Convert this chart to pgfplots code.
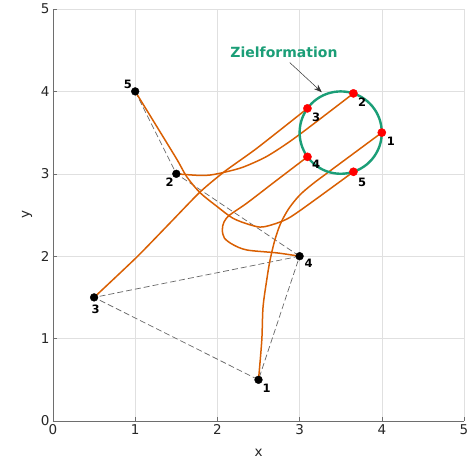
\documentclass[border=0pt]{standalone}
\usepackage{fontspec}
\setmainfont{DejaVu Sans}
\usepackage{pgfplots}
\pgfplotsset{compat=1.18}
\usetikzlibrary{arrows.meta}
\definecolor{dorange}{RGB}{217,95,2}
\definecolor{dteal}{RGB}{27,158,119}
\definecolor{axgray}{RGB}{110,110,110}
\definecolor{ticktext}{RGB}{38,38,38}
\begin{document}
\begin{tikzpicture}
\begin{axis}[
  scale only axis, width=411pt, height=412pt,
  xmin=0, xmax=5, ymin=0, ymax=5,
  xtick={0,1,2,3,4,5}, ytick={0,1,2,3,4,5},
  axis x line=bottom, axis y line=left,
  axis line style={-, draw=axgray, line width=0.6pt},
  tick align=inside, major tick length=4pt,
  tick style={draw=axgray, line width=0.5pt},
  grid=major, major grid style={draw=black!12, line width=0.5pt},
  /pgf/number format/assume math mode=true,
  tick label style={font=\fontsize{13.5}{15}\selectfont, text=ticktext},
  xlabel={x}, ylabel={y},
  label style={font=\fontsize{13.5}{15}\selectfont, text=ticktext},
  xlabel style={at={(axis description cs:0.5,-0.078)}, anchor=center},
  ylabel style={at={(axis description cs:-0.063,0.5)}, anchor=center, rotate=0},
  clip=false,
]
% dashed graph edges
\addplot[draw=black!60, line width=0.7pt, dash pattern=on 6pt off 3pt] coordinates {(1,4) (1.5,3) (3,2)};
\addplot[draw=black!60, line width=0.7pt, dash pattern=on 6pt off 3pt] coordinates {(3,2) (0.5,1.5) (2.5,0.5) (3,2)};

% trajectories
\addplot[dorange, line width=1.5pt, smooth, tension=0.5] coordinates {
 (2.5,0.5) (2.54,0.98) (2.555,1.38) (2.60,1.71) (2.64,1.95) (2.70,2.20) (2.77,2.40) (2.87,2.58) (3.00,2.74) (3.15,2.87) (3.35,3.02) (4.0,3.5)};
\addplot[dorange, line width=1.5pt, smooth, tension=0.5] coordinates {
 (1.5,3.0) (1.75,2.982) (1.91,2.985) (2.09,3.02) (2.31,3.08) (2.58,3.20) (2.82,3.35) (3.07,3.53) (3.655,3.976)};
\addplot[dorange, line width=1.5pt, smooth, tension=0.4] coordinates {
 (0.5,1.5) (1.02,1.99) (1.42,2.40) (1.79,2.78) (2.09,3.03) (2.48,3.31) (3.0955,3.794)};
\addplot[dorange, line width=1.5pt, smooth, tension=0.5] coordinates {
 (3.0,2.0) (2.725,2.04) (2.36,2.075) (2.19,2.14) (2.085,2.22) (2.06,2.32) (2.08,2.415) (2.15,2.50) (2.36,2.645) (2.68,2.89) (3.0955,3.206)};
\addplot[dorange, line width=1.5pt, smooth, tension=0.5] coordinates {
 (1.0,4.0) (1.265,3.57) (1.51,3.17) (1.63,2.96) (1.79,2.77) (2.00,2.60) (2.19,2.46) (2.40,2.38) (2.555,2.355) (2.80,2.43) (3.00,2.55) (3.655,3.0245)};

% target formation circle
\addplot[dteal, line width=2.4pt, smooth] coordinates {
 (4.0,3.5) (3.9924,3.5868) (3.9698,3.6710) (3.9330,3.75) (3.8830,3.8214) (3.8214,3.8830) (3.75,3.9330) (3.6710,3.9698) (3.5868,3.9924) (3.5,4.0)
 (3.4132,3.9924) (3.3290,3.9698) (3.25,3.9330) (3.1786,3.8830) (3.1170,3.8214) (3.0670,3.75) (3.0302,3.6710) (3.0076,3.5868) (3.0,3.5)
 (3.0076,3.4132) (3.0302,3.3290) (3.0670,3.25) (3.1170,3.1786) (3.1786,3.1170) (3.25,3.0670) (3.3290,3.0302) (3.4132,3.0076) (3.5,3.0)
 (3.5868,3.0076) (3.6710,3.0302) (3.75,3.0670) (3.8214,3.1170) (3.8830,3.1786) (3.9330,3.25) (3.9698,3.3290) (3.9924,3.4132) (4.0,3.5)};

% start points
\addplot[only marks, mark=*, mark size=3.9pt, mark options={fill=black, draw=black}] coordinates {(2.5,0.5) (1.5,3) (0.5,1.5) (3,2) (1,4)};
% target points
\addplot[only marks, mark=*, mark size=4.1pt, mark options={fill=red, draw=red}] coordinates {(4.0,3.5) (3.655,3.976) (3.0955,3.794) (3.0955,3.206) (3.655,3.0245)};

% labels
\begin{scope}[every node/.style={font=\fontsize{11.5}{12}\selectfont\bfseries, text=black}]
\node at (axis cs:2.60,0.40) {1};
\node at (axis cs:1.42,2.90) {2};
\node at (axis cs:0.52,1.36) {3};
\node at (axis cs:3.11,1.91) {4};
\node at (axis cs:0.91,4.09) {5};
\node at (axis cs:4.11,3.40) {1};
\node at (axis cs:3.76,3.87) {2};
\node at (axis cs:3.20,3.68) {3};
\node at (axis cs:3.20,3.11) {4};
\node at (axis cs:3.76,2.90) {5};
\end{scope}
\node[font=\fontsize{14}{15}\selectfont\bfseries, text=dteal] at (axis cs:2.81,4.48) {Zielformation};
\draw[-{Stealth[length=8pt,width=6pt]}, black!80, line width=0.5pt] (axis cs:2.88,4.35) -- (axis cs:3.27,3.99);
\end{axis}
\pgfresetboundingbox
\useasboundingbox ([shift={(-53pt,-39pt)}]current axis.south west) rectangle ([shift={(12pt,9pt)}]current axis.north east);
\end{tikzpicture}
\end{document}
